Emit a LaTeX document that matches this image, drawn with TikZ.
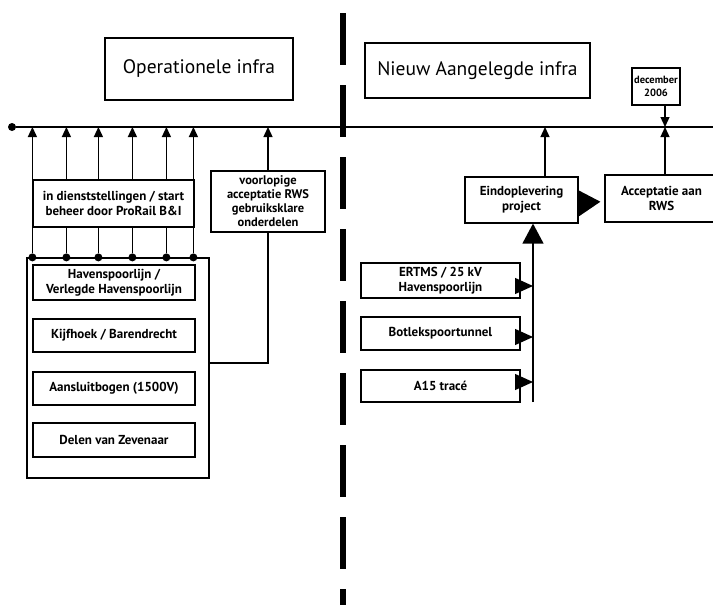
\documentclass[tikz,border=0pt]{standalone}
\usepackage{fontspec}
\setmainfont{PT Sans}
\usetikzlibrary{arrows.meta}
\begin{document}
\begin{tikzpicture}[x=1pt,y=-1pt,
  box/.style={draw, line width=1.2pt, fill=white, inner sep=1pt, align=center,
    font=\bfseries\fontsize{13}{15}\selectfont},
  bigbox/.style={draw, line width=1.2pt, fill=white, align=center, font=\fontsize{19.5}{22}\selectfont},
  ln/.style={line width=1.3pt},
  sarr/.style={ln, -{Triangle[length=10pt,width=9pt]}},
  marr/.style={ln, -{Triangle[length=18pt,width=16pt]}},
  barr/.style={ln, -{Triangle[length=20pt,width=21pt]}},
  dot/.style={circle, fill, inner sep=0pt, minimum size=8pt},
  divider/.style={line width=6pt, dash pattern=on 52pt off 20pt}]
\useasboundingbox (0,0) rectangle (713,605);

% divider
\coordinate (dvt) at (343,13);
\coordinate (dvb) at (343,605);
\draw[divider] (dvt) -- (dvb);

% timeline
\node[dot] (t0) at (12,127) {};
\coordinate (tend) at (713,127);
\draw[ln] (t0) -- (tend);

% titles
\node[bigbox, minimum width=188pt, minimum height=62pt] (op) at (199,69) {\raisebox{4pt}{Operationele infra}};
\node[bigbox, minimum width=225pt, minimum height=55pt] (nw) at (477.5,70.5) {\raisebox{4pt}{Nieuw Aangelegde infra}};

% left side
\node[draw, line width=1.2pt, minimum width=182pt, minimum height=220pt, inner sep=0pt] (outer) at (118,368) {};
\node[box, minimum width=161pt, minimum height=47pt] (ds) at (113.5,203.5) {in dienststellingen / start\\beheer door ProRail B\&I};
\foreach \dx [count=\i] in {0,34,66,100,134,161} {
  \coordinate (a\i) at ([xshift=\dx pt]ds.north west);
  \coordinate (b\i) at ([xshift=\dx pt]ds.south west);
  \node[dot] (d\i) at (b\i |- outer.north) {};
  \draw[sarr] (a\i) -- (a\i |- t0);
  \draw[ln] (b\i) -- (d\i);
}
\node[box, minimum width=162pt, minimum height=35pt] (hv) at (114,282.5) {Havenspoorlijn /\\Verlegde Havenspoorlijn};
\node[box, minimum width=162pt, minimum height=33pt] (kb) at (114,335.5) {Kijfhoek / Barendrecht};
\node[box, minimum width=162pt, minimum height=33pt] (ab) at (114,388.5) {Aansluitbogen (1500V)};
\node[box, minimum width=162pt, minimum height=34pt] (dz) at (114,440) {Delen van Zevenaar};

\node[box, minimum width=114pt, minimum height=61pt, font=\bfseries\fontsize{12.5}{14}\selectfont] (vl) at (268,201.5) {voorlopige\\acceptatie RWS\\gebruiksklare\\onderdelen};
\draw[ln] ([yshift=5pt]outer.east) -| (vl.south);
\draw[sarr] (vl.north) -- (vl.north |- t0);

% right side
\node[box, minimum width=48pt, minimum height=37pt, inner sep=0pt, font=\bfseries\fontsize{10.5}{13}\selectfont] (dec) at (656,86.5) {december\\2006};
\coordinate (decs) at ([xshift=9pt]dec.south);
\draw[sarr] (decs) -- (decs |- t0);

\node[box, minimum width=113pt, minimum height=46pt] (eo) at (521.5,200) {Eindoplevering\\project};
\node[box, minimum width=113pt, minimum height=47pt] (ac) at (661.5,198.5) {Acceptatie aan\\RWS};
\coordinate (eon) at ([xshift=23.5pt]eo.north);
\draw[sarr] (eon) -- (eon |- t0);
\coordinate (acn) at ([xshift=3.5pt]ac.north);
\draw[sarr] (acn) -- (acn |- t0);
\draw[ln, -{Triangle[length=22pt,width=26pt]}, shorten >=4pt] ([yshift=-3pt]eo.east) -- ([yshift=-3pt]ac.west);

\node[box, minimum width=159pt, minimum height=35pt] (er) at (440.5,280.5) {ERTMS / 25 kV\\Havenspoorlijn};
\node[box, minimum width=159pt, minimum height=33pt] (bt) at (440.5,333.5) {Botlekspoortunnel};
\node[box, minimum width=159pt, minimum height=32pt] (a15) at (440.5,386) {A15 tracé};
\coordinate (vb) at (533,402);
\draw[barr] (vb) -- (vb |- eo.south);
\draw[marr] ([yshift=-5.5pt]er.east) -- ([yshift=-5.5pt]er.east -| vb);
\draw[marr] ([yshift=-3.5pt]bt.east) -- ([yshift=-3.5pt]bt.east -| vb);
\draw[marr] ([yshift=4pt]a15.east) -- ([yshift=4pt]a15.east -| vb);
\end{tikzpicture}
\end{document}
